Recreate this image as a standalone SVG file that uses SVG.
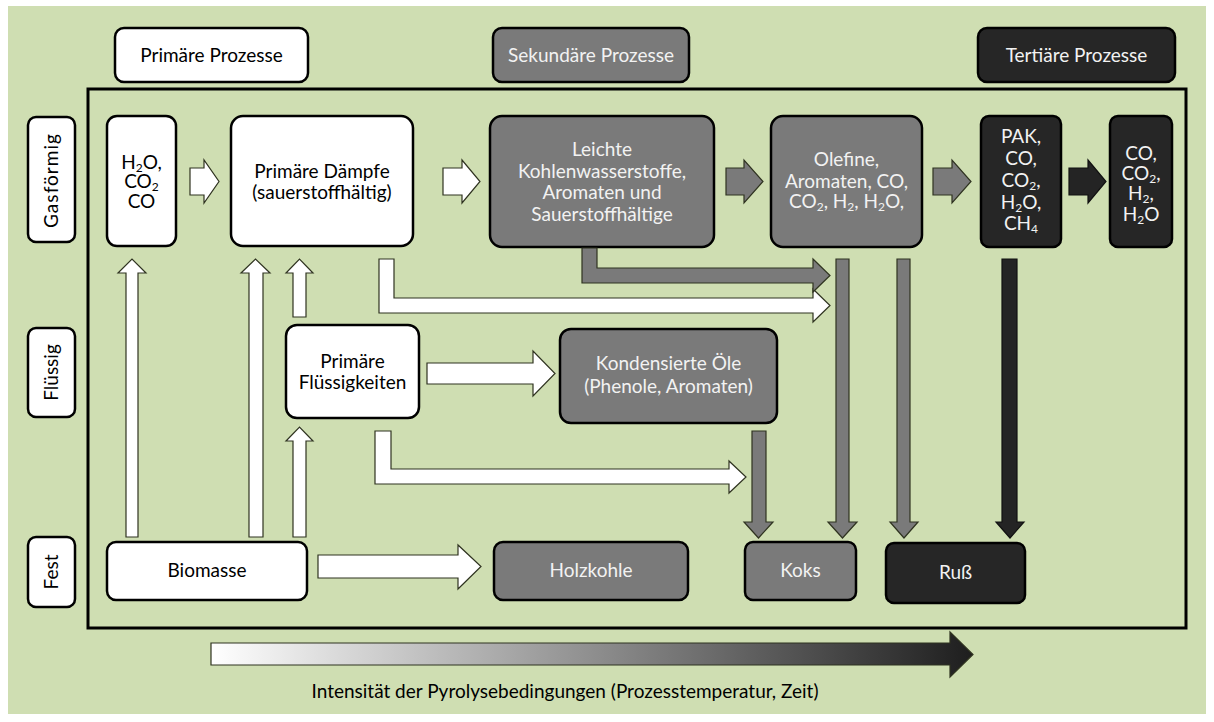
<svg xmlns="http://www.w3.org/2000/svg" width="1214" height="722" viewBox="0 0 1214 722">
<defs>
<linearGradient id="grad" x1="211" y1="0" x2="973" y2="0" gradientUnits="userSpaceOnUse">
<stop offset="0" stop-color="#FFFFFF"/>
<stop offset="1" stop-color="#1E1E1E"/>
</linearGradient>
<style>
.bg{fill:#CFDEB2}
.frame{fill:none;stroke:#000;stroke-width:3}
.bw{fill:#FFFFFF;stroke:#000;stroke-width:2.5}
.bg1{fill:#7A7A7A;stroke:#000;stroke-width:2.5}
.bd{fill:#262626;stroke:#000;stroke-width:2.5}
.t{font-family:Lato,"Liberation Sans",sans-serif;font-size:19px;text-anchor:middle;fill:#000}
.tw{fill:#F2F2F2}
.sub{font-size:12px}
.aw{fill:#FFFFFF;stroke:#2F3320;stroke-width:1.2;stroke-linejoin:miter}
.ag{fill:#7A7A7A;stroke:#2F3320;stroke-width:1.2}
.ad{fill:#242424;stroke:#111;stroke-width:1.2}
.agr{fill:url(#grad);stroke:#2F3320;stroke-width:1.2}
</style>
</defs>
<rect class="bg" x="8" y="6" width="1198" height="708"/>
<rect class="frame" x="88" y="89" width="1098" height="539"/>

<g id="hdr-primaer"><rect class="bw" x="115" y="28" width="193" height="54" rx="9"/><text class="t" x="211.5" y="61.5">Primäre Prozesse</text></g>
<g id="hdr-sekundaer"><rect class="bg1" x="493" y="28" width="196" height="54" rx="9"/><text class="t tw" x="591" y="61.5">Sekundäre Prozesse</text></g>
<g id="hdr-tertiaer"><rect class="bd" x="978" y="28" width="197" height="54" rx="9"/><text class="t tw" x="1076.5" y="61.5">Tertiäre Prozesse</text></g>

<g id="lbl-gas"><rect class="bw" x="28" y="117" width="47" height="125" rx="8"/><text class="t" transform="translate(58,181) rotate(-90)" x="0" y="0" textLength="94" lengthAdjust="spacing">Gasförmig</text></g>
<g id="lbl-fluessig"><rect class="bw" x="28" y="328" width="47" height="89" rx="8"/><text class="t" transform="translate(58,372.5) rotate(-90)" x="0" y="0">Flüssig</text></g>
<g id="lbl-fest"><rect class="bw" x="28" y="537" width="47" height="70" rx="8"/><text class="t" transform="translate(58,572) rotate(-90)" x="0" y="0">Fest</text></g>

<g id="n-gase1"><rect class="bw" x="107" y="116" width="69" height="130" rx="10"/>
<text class="t" x="141.5" y="169">H<tspan class="sub" dy="3">2</tspan><tspan dy="-3">O,</tspan></text>
<text class="t" x="141.5" y="188">CO<tspan class="sub" dy="3">2</tspan></text>
<text class="t" x="141.5" y="208">CO</text></g>

<g id="n-daempfe"><rect class="bw" x="231" y="116" width="182" height="130" rx="12"/>
<text class="t" x="322" y="178">Primäre Dämpfe</text>
<text class="t" x="322" y="199">(sauerstoffhältig)</text></g>

<g id="n-leichte"><rect class="bg1" x="490" y="116" width="224" height="131" rx="12"/>
<text class="t tw" x="602" y="156">Leichte</text>
<text class="t tw" x="602" y="178">Kohlenwasserstoffe,</text>
<text class="t tw" x="602" y="199">Aromaten und</text>
<text class="t tw" x="602" y="221">Sauerstoffhältige</text></g>

<g id="n-olefine"><rect class="bg1" x="771" y="116" width="151" height="131" rx="12"/>
<text class="t tw" x="846.5" y="166">Olefine,</text>
<text class="t tw" x="846.5" y="188">Aromaten, CO,</text>
<text class="t tw" x="846.5" y="208">CO<tspan class="sub" dy="3">2</tspan><tspan dy="-3">, H</tspan><tspan class="sub" dy="3">2</tspan><tspan dy="-3">, H</tspan><tspan class="sub" dy="3">2</tspan><tspan dy="-3">O,</tspan></text></g>

<g id="n-pak"><rect class="bd" x="981" y="116" width="80" height="131" rx="8"/>
<text class="t tw" x="1021" y="143">PAK,</text>
<text class="t tw" x="1021" y="165">CO,</text>
<text class="t tw" x="1021" y="187">CO<tspan class="sub" dy="3">2</tspan><tspan dy="-3">,</tspan></text>
<text class="t tw" x="1021" y="209">H<tspan class="sub" dy="3">2</tspan><tspan dy="-3">O,</tspan></text>
<text class="t tw" x="1021" y="230">CH<tspan class="sub" dy="3">4</tspan></text></g>

<g id="n-gase3"><rect class="bd" x="1110" y="116" width="62" height="131" rx="8"/>
<text class="t tw" x="1141" y="160">CO,</text>
<text class="t tw" x="1141" y="180">CO<tspan class="sub" dy="3">2</tspan><tspan dy="-3">,</tspan></text>
<text class="t tw" x="1141" y="200">H<tspan class="sub" dy="3">2</tspan><tspan dy="-3">,</tspan></text>
<text class="t tw" x="1141" y="221">H<tspan class="sub" dy="3">2</tspan><tspan dy="-3">O</tspan></text></g>

<g id="n-fluessigkeiten"><rect class="bw" x="286" y="325" width="133" height="93" rx="11"/>
<text class="t" x="352.5" y="368">Primäre</text>
<text class="t" x="352.5" y="389">Flüssigkeiten</text></g>

<g id="n-oele"><rect class="bg1" x="560" y="329" width="217" height="94" rx="11"/>
<text class="t tw" x="668.5" y="370">Kondensierte Öle</text>
<text class="t tw" x="668.5" y="393">(Phenole, Aromaten)</text></g>

<g id="n-biomasse"><rect class="bw" x="107" y="542" width="200" height="58" rx="9"/><text class="t" x="207" y="577">Biomasse</text></g>
<g id="n-holzkohle"><rect class="bg1" x="494" y="542" width="194" height="58" rx="9"/><text class="t tw" x="591" y="577">Holzkohle</text></g>
<g id="n-koks"><rect class="bg1" x="745" y="542" width="111" height="58" rx="8"/><text class="t tw" x="800.5" y="577">Koks</text></g>
<g id="n-russ"><rect class="bd" x="886" y="543" width="139" height="60" rx="8"/><text class="t tw" x="955.5" y="579">Ruß</text></g>

<g id="connectors">
<polygon class="aw" points="190,168 204,168 204,160 219,181.5 204,203 204,195 190,195"/>
<polygon class="aw" points="443,168 462,168 462,160 480,181.5 462,203 462,195 443,195"/>
<polygon class="ag" points="726,168 744,168 744,160 763,181.5 744,203 744,195 726,195"/>
<polygon class="ag" points="933,168 952,168 952,160 971,181.5 952,203 952,195 933,195"/>
<polygon class="ad" points="1069,168 1088,168 1088,160 1106,181.5 1088,203 1088,195 1069,195"/>
<polygon class="aw" points="126,537 126,273 118,273 132,259 146,273 138,273 138,537"/>
<polygon class="aw" points="249,537 249,273 241,273 255.5,259 270,273 263,273 263,537"/>
<polygon class="aw" points="293,317 293,273 286,273 299.5,259 313,273 306,273 306,317"/>
<polygon class="aw" points="293,537 293,441 286,441 299.5,427 313,441 306,441 306,537"/>
<polygon class="aw" points="379,259 394,259 394,298 813,298 813,289 830,305.5 813,322 813,313 379,313"/>
<polygon class="ag" points="582,248 597,248 597,268 813,268 813,259 830,275.5 813,292 813,283 582,283"/>
<polygon class="aw" points="375,431 391,431 391,469 729,469 729,461 746,477 729,493 729,484 375,484"/>
<polygon class="aw" points="427,363 533,363 533,351 555,373.5 533,396 533,384 427,384"/>
<polygon class="aw" points="318,555 458,555 458,545 481,566.5 458,589 458,578 318,578"/>
<polygon class="ag" points="752,431 766,431 766,522 773,522 758.5,538 744,522 752,522"/>
<polygon class="ag" points="836,259 849,259 849,522 857,522 842.5,538 828,522 836,522"/>
<polygon class="ag" points="897,259 910,259 910,522 918,522 904,538 890,522 897,522"/>
<polygon class="ad" points="1002,259 1017,259 1017,522 1024,522 1010,538 996,522 1002,522"/>
<polygon class="agr" points="211,643 950,643 950,632 973,654.5 950,677 950,665 211,665"/>
</g>
<text class="t" x="565" y="698">Intensität der Pyrolysebedingungen (Prozesstemperatur, Zeit)</text>
</svg>
